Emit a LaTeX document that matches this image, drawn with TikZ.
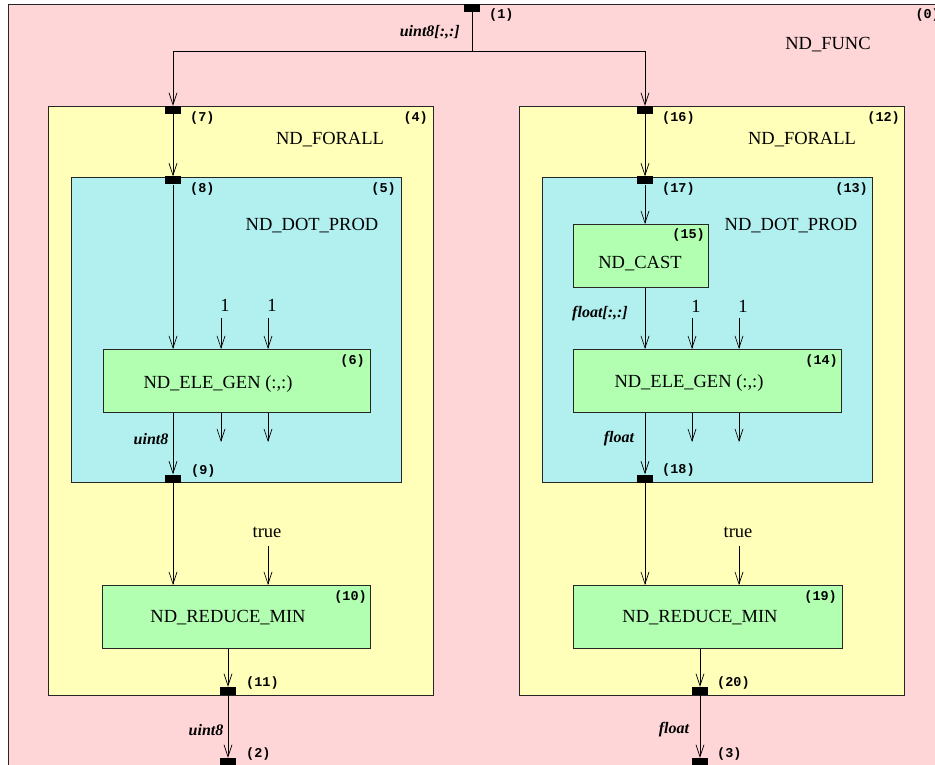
\documentclass[tikz,border=0pt]{standalone}
\usepackage{fontspec}
\setmainfont{Liberation Serif}
\newfontfamily\monof{Liberation Mono}
\usetikzlibrary{arrows.meta}
\definecolor{pinkbg}{RGB}{255,214,216}
\definecolor{yellowbg}{RGB}{255,255,185}
\definecolor{cyanbg}{RGB}{178,240,240}
\definecolor{greenbg}{RGB}{178,255,178}
\begin{document}
\begin{tikzpicture}[x=1pt,y=-1pt,
  arr/.style={-{Straight Barb[length=12pt,width=8pt]}, line width=0.7pt},
  box/.style={draw=black!85, line width=0.9pt, anchor=north west, inner sep=0pt},
  port/.style={fill=black, minimum width=16pt, minimum height=8pt, inner sep=0pt},
  num/.style={font=\monof\bfseries\fontsize{13.5}{13.5}\selectfont, inner sep=0pt},
  title/.style={font=\fontsize{18.5}{20}\selectfont, inner sep=0pt},
  elbl/.style={font=\bfseries\itshape\fontsize{16}{18}\selectfont, inner sep=0pt},
  const/.style={font=\fontsize{18.5}{20}\selectfont, inner sep=0pt}]
\useasboundingbox (0,0) rectangle (935,765);
\clip (0,0) rectangle (935,765);
\fill[white] (0,0) rectangle (935,765);
% boxes
\node[box, fill=pinkbg, minimum width=936pt, minimum height=780pt] (func) at (8,4) {};
\node[box, fill=yellowbg, minimum width=385pt, minimum height=589pt] (fa1) at (48,106) {};
\node[box, fill=yellowbg, minimum width=385pt, minimum height=589pt] (fa2) at (519,106) {};
\node[box, fill=cyanbg, minimum width=330pt, minimum height=305pt] (dp1) at (71,177) {};
\node[box, fill=cyanbg, minimum width=330pt, minimum height=305pt] (dp2) at (542,177) {};
\node[box, fill=greenbg, minimum width=267pt, minimum height=63pt] (eg1) at (103,349) {};
\node[box, fill=greenbg, minimum width=268pt, minimum height=63pt] (eg2) at (573,349) {};
\node[box, fill=greenbg, minimum width=135pt, minimum height=63pt] (cast) at (573,224) {};
\node[box, fill=greenbg, minimum width=268pt, minimum height=63pt] (rm1) at (102,585) {};
\node[box, fill=greenbg, minimum width=269pt, minimum height=63pt] (rm2) at (573,585) {};
% ports
\node[port] (p1) at (472,8) {};
\node[port] (p7) at (173,110) {};
\node[port] (p8) at (173,180.5) {};
\node[port] (p9) at (173,478.5) {};
\node[port] (p11) at (228,691) {};
\node[port] (p2) at (228,762) {};
\node[port] (p16) at (645,110) {};
\node[port] (p17) at (645,180.5) {};
\node[port] (p18) at (645,478.5) {};
\node[port] (p20) at (700,691) {};
\node[port] (p3) at (700,762) {};
% titles
\node[title] (tfunc) at (828,45) {ND\_FUNC};
\node[title] (tfa1) at (330,140) {ND\_FORALL};
\node[title] (tfa2) at (802,140) {ND\_FORALL};
\node[title] (tdp1) at (312,226) {ND\_DOT\_PROD};
\node[title] (tdp2) at (791,226) {ND\_DOT\_PROD};
\node[title] (tcast) at (640,264) {ND\_CAST};
\node[title] (teg1) at (218,384) {ND\_ELE\_GEN (:,:)};
\node[title] (teg2) at (689,383) {ND\_ELE\_GEN (:,:)};
\node[title] (trm1) at (228,618) {ND\_REDUCE\_MIN};
\node[title] (trm2) at (700,618) {ND\_REDUCE\_MIN};
% box numbers
\node[num, anchor=east] (n0) at (940,15) {(0)};
\node[num, anchor=east] (n4) at (428,118) {(4)};
\node[num, anchor=east] (n12) at (900,118) {(12)};
\node[num, anchor=east] (n5) at (396,189) {(5)};
\node[num, anchor=east] (n13) at (868,189) {(13)};
\node[num, anchor=east] (n6) at (365,361) {(6)};
\node[num, anchor=east] (n14) at (838,361) {(14)};
\node[num, anchor=east] (n15) at (705,235) {(15)};
\node[num, anchor=east] (n10) at (367,597) {(10)};
\node[num, anchor=east] (n19) at (837,597) {(19)};
% port numbers
\node[num, anchor=west] (l1) at (489,15) {(1)};
\node[num, anchor=west] (l7) at (190,118) {(7)};
\node[num, anchor=west] (l8) at (190,189) {(8)};
\node[num, anchor=west] (l9) at (191,471) {(9)};
\node[num, anchor=west] (l11) at (246,683) {(11)};
\node[num, anchor=west] (l2) at (246,754) {(2)};
\node[num, anchor=west] (l16) at (662,118) {(16)};
\node[num, anchor=west] (l17) at (662,189) {(17)};
\node[num, anchor=west] (l18) at (662,470) {(18)};
\node[num, anchor=west] (l20) at (717,683) {(20)};
\node[num, anchor=west] (l3) at (717,754) {(3)};
% edge labels
\node[elbl, anchor=east] (e1) at (460,32) {uint8[:,:]};
\node[elbl] (e2) at (151,439) {uint8};
\node[elbl] (e3) at (619,439) {float};
\node[elbl] (e4) at (600,314) {float[:,:]};
\node[elbl] (e5) at (206,730) {uint8};
\node[elbl] (e6) at (674,730) {float};
% constants
\node[const] (c1) at (225,305) {1};
\node[const] (c2) at (272,305) {1};
\node[const] (c3) at (696,306) {1};
\node[const] (c4) at (743,306) {1};
\node[const] (c5) at (267,532) {true};
\node[const] (c6) at (738,532) {true};
% connector coordinates
\coordinate (fork) at (472,51);
\coordinate (k1) at (221,318);
\coordinate (k2) at (268,318);
\coordinate (k3) at (692,318);
\coordinate (k4) at (739,318);
\coordinate (o1) at (221,442);
\coordinate (o2) at (268,442);
\coordinate (o3) at (692,442);
\coordinate (o4) at (739,442);
\coordinate (t1) at (268,546);
\coordinate (t2) at (739,546);
% connectors
\draw[arr] (p1.south) -- (fork) -| (p7.north);
\draw[arr] (fork) -| (p16.north);
\draw[arr] (p7.south) -- (p8.north);
\draw[arr] (p8.south) -- (p8.south |- eg1.north);
\draw[arr] (p8 |- eg1.south) -- (p9.north);
\draw[arr] (p9.south) -- (p9 |- rm1.north);
\draw[arr] (p11 |- rm1.south) -- (p11.north);
\draw[arr] (p11.south) -- (p2.north);
\draw[arr] (p16.south) -- (p17.north);
\draw[arr] (p17.south) -- (p17 |- cast.north);
\draw[arr] (p17 |- cast.south) -- (p17 |- eg2.north);
\draw[arr] (p17 |- eg2.south) -- (p18.north);
\draw[arr] (p18.south) -- (p18 |- rm2.north);
\draw[arr] (p20 |- rm2.south) -- (p20.north);
\draw[arr] (p20.south) -- (p3.north);
\draw[arr] (k1) -- (k1 |- eg1.north);
\draw[arr] (k2) -- (k2 |- eg1.north);
\draw[arr] (k3) -- (k3 |- eg2.north);
\draw[arr] (k4) -- (k4 |- eg2.north);
\draw[arr] (o1 |- eg1.south) -- (o1);
\draw[arr] (o2 |- eg1.south) -- (o2);
\draw[arr] (o3 |- eg2.south) -- (o3);
\draw[arr] (o4 |- eg2.south) -- (o4);
\draw[arr] (t1) -- (t1 |- rm1.north);
\draw[arr] (t2) -- (t2 |- rm2.north);
\end{tikzpicture}
\end{document}
